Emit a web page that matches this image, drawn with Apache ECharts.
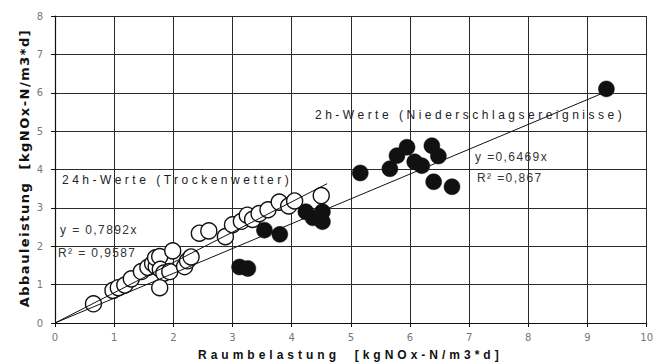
<!DOCTYPE html>
<html>
<head>
<meta charset="utf-8">
<script src="https://cdn.jsdelivr.net/npm/echarts@6/dist/echarts.min.js"></script>
<style>
  html, body { margin: 0; padding: 0; background: #fff; }
  #c { width: 656px; height: 362px; }
  text[style*="Liberation Sans"] { letter-spacing: 3.5px; }
  text[style*="Arimo"] { letter-spacing: 1.4px; }
  text[style*="Helvetica"] { letter-spacing: 4px; }
  text[style*="Verdana"] { letter-spacing: 1.5px; }
</style>
</head>
<body>
<div id="c"></div>
<script>
// 24h-Werte (Trockenwetter) - open circles
const dryWeather = [
  [0.65,0.50],[0.98,0.85],[1.07,0.92],[1.18,0.99],[1.29,1.15],[1.46,1.34],
  [1.57,1.45],[1.65,1.55],[1.71,1.47],[1.70,1.70],[1.77,1.73],[1.78,1.40],
  [1.84,1.30],[1.77,0.92],[1.94,1.34],[1.99,1.88],[2.19,1.47],[2.24,1.62],
  [2.30,1.72],[2.44,2.34],[2.60,2.40],[2.88,2.25],[3.00,2.56],[3.15,2.65],
  [3.25,2.81],[3.34,2.70],[3.45,2.85],[3.60,2.95],[3.79,3.15],[3.95,3.05],
  [4.05,3.18],[4.50,3.32]
];
// 2h-Werte (Niederschlagsereignisse) - filled circles
const rainEvents = [
  [3.12,1.46],[3.26,1.42],[3.54,2.42],[3.80,2.31],[4.24,2.90],[4.36,2.74],
  [4.52,2.64],[4.52,2.90],[5.16,3.91],[5.66,4.02],[5.78,4.36],[5.95,4.58],
  [6.08,4.20],[6.20,4.10],[6.37,4.62],[6.48,4.35],[6.40,3.68],[6.71,3.55],
  [9.32,6.10]
];
const slopeDry = 0.7892, r2Dry = '0,9587', dryLineMax = 4.6;
const slopeRain = 0.6469, r2Rain = '0,867', rainLineMax = 9.4;
const xTicks = [0,1,2,3,4,5,6,7,8,9,10];
const yTicks = [0,1,2,3,4,5,6,7,8];

const chart = echarts.init(document.getElementById('c'), null, {renderer: 'svg'});
const tickFont = {color: '#777', fontSize: 10, fontFamily: "'DejaVu Sans'"};
chart.setOption({
  animation: false,
  backgroundColor: '#fff',
  grid: {left: 55, right: 7, top: 16, bottom: 39, show: false},
  xAxis: {
    type: 'value', min: xTicks[0], max: xTicks[xTicks.length-1], interval: 1,
    axisLine: {show: true, onZero: false, lineStyle: {color: '#111', width: 1.2}},
    axisTick: {show: true, length: 4, lineStyle: {color: '#111'}},
    axisLabel: Object.assign({margin: 9}, tickFont),
    splitLine: {show: true, lineStyle: {color: '#2a2a2a', width: 1}}
  },
  yAxis: {
    type: 'value', min: yTicks[0], max: yTicks[yTicks.length-1], interval: 1,
    axisLine: {show: true, onZero: false, lineStyle: {color: '#111', width: 1.2}},
    axisTick: {show: true, length: 4, lineStyle: {color: '#111'}},
    axisLabel: Object.assign({margin: 12}, tickFont),
    splitLine: {show: true, lineStyle: {color: '#2a2a2a', width: 1}}
  },
  series: [
    {
      type: 'scatter', data: dryWeather, symbol: 'circle', symbolSize: 16,
      itemStyle: {color: '#fff', borderColor: '#111', borderWidth: 1.4, opacity: 1},
      z: 2, silent: true
    },
    {
      type: 'scatter', data: rainEvents, symbol: 'circle', symbolSize: 16,
      itemStyle: {color: '#111', borderColor: '#111', borderWidth: 0.5, opacity: 1},
      z: 3, silent: true
    },
    {
      type: 'line', data: [[0,0],[dryLineMax, dryLineMax*slopeDry]], showSymbol: false,
      lineStyle: {color: '#111', width: 1}, z: 4, silent: true
    },
    {
      type: 'line', data: [[0,0],[rainLineMax, rainLineMax*slopeRain]], showSymbol: false,
      lineStyle: {color: '#111', width: 1}, z: 4, silent: true
    }
  ],
  graphic: [
    {type: 'text', x: 62, y: 180, z: 10, style: {text: '24h-Werte (Trockenwetter)', fill: '#222', fontSize: 12, fontFamily: "'Liberation Sans'", textAlign: 'left', textVerticalAlign: 'middle'}},
    {type: 'text', x: 60, y: 230, z: 10, style: {text: 'y = ' + String(slopeDry).replace('.', ',') + 'x', fill: '#333', fontSize: 12, fontFamily: "Arimo, 'Liberation Sans'", textAlign: 'left', textVerticalAlign: 'middle'}},
    {type: 'text', x: 58, y: 253, z: 10, style: {text: 'R² = ' + r2Dry, fill: '#333', fontSize: 12, fontFamily: "Arimo, 'Liberation Sans'", textAlign: 'left', textVerticalAlign: 'middle'}},
    {type: 'text', x: 315, y: 115, z: 10, style: {text: '2h-Werte (Niederschlagsereignisse)', fill: '#222', fontSize: 12, fontFamily: "'Liberation Sans'", textAlign: 'left', textVerticalAlign: 'middle'}},
    {type: 'text', x: 475, y: 157, z: 10, style: {text: 'y =' + String(slopeRain).replace('.', ',') + 'x', fill: '#333', fontSize: 12, fontFamily: "Arimo, 'Liberation Sans'", textAlign: 'left', textVerticalAlign: 'middle'}},
    {type: 'text', x: 477, y: 178, z: 10, style: {text: 'R² =' + r2Rain, fill: '#333', fontSize: 12, fontFamily: "Arimo, 'Liberation Sans'", textAlign: 'left', textVerticalAlign: 'middle'}},
    {type: 'text', x: 198, y: 355, z: 10, style: {text: 'Raumbelastung  [kgNOx-N/m3*d]', fill: '#111', fontSize: 12, fontWeight: 'bold', fontFamily: "Helvetica, 'Liberation Sans'", textAlign: 'left', textVerticalAlign: 'middle'}},
    {type: 'text', x: 24, y: 168, rotation: Math.PI/2, z: 10, style: {text: 'Abbauleistung  [kgNOx-N/m3*d]', fill: '#111', fontSize: 13, fontWeight: 'bold', fontFamily: "Verdana, 'DejaVu Sans'", textAlign: 'center', textVerticalAlign: 'middle'}}
  ]
});
</script>
</body>
</html>
